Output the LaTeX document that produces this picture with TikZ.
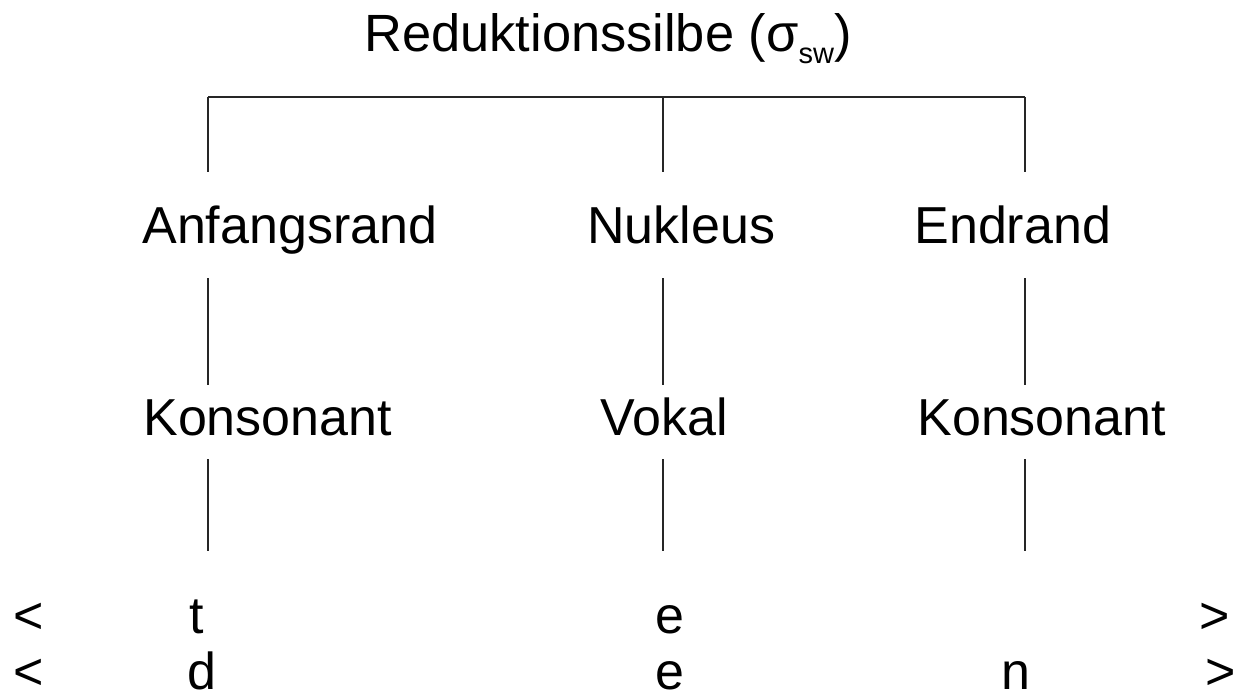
\documentclass[tikz,border=0pt]{standalone}
\usepackage{fontspec}
\setmainfont{Liberation Sans}
\begin{document}
\begin{tikzpicture}[x=0.5pt,y=-0.5pt,
  lbl/.style={anchor=base west,inner sep=0pt,font=\fontsize{26}{30}\selectfont},
  ttl/.style={anchor=base west,inner sep=0pt,font=\fontsize{26.2}{30}\selectfont},
  sym/.style={anchor=base,inner sep=0pt,font=\fontsize{26}{30}\selectfont},
  edge/.style={line width=0.8pt,draw=black!85}]
\useasboundingbox (0,0) rectangle (1236,696);
% title
\node[ttl] (title) at (364,51) {Reduktionssilbe (σ\raisebox{-6pt}{\fontsize{14.5}{16}\selectfont sw})};
% level 1
\node[lbl] (anf) at (142,243) {Anfangsrand};
\node[lbl] (nuk) at (587,243) {Nukleus};
\node[lbl] (end) at (914,243) {Endrand};
% level 2
\node[lbl] (kon1) at (143,435) {Konsonant};
\node[lbl] (vok) at (600,435) {Vokal};
\node[lbl] (kon2) at (917,435) {Konsonant};
% bottom rows
\node[sym] (la) at (29,633) {<};
\node[sym] (ta) at (197,633) {t};
\node[sym] (ea) at (670,633) {e};
\node[sym] (ra) at (1215,633) {>};
\node[sym] (lb) at (29,689) {<};
\node[sym] (db) at (202,689) {d};
\node[sym] (eb) at (670,689) {e};
\node[sym] (nb) at (1016,689) {n};
\node[sym] (rb) at (1221,689) {>};
% connector coordinates
\coordinate (barL) at (208,97);
\coordinate (barM) at (663,97);
\coordinate (barR) at (1025,97);
\coordinate (a1) at (208,172);
\coordinate (m1) at (663,172);
\coordinate (r1) at (1025,172);
\coordinate (a2t) at (208,278);
\coordinate (m2t) at (663,278);
\coordinate (r2t) at (1025,278);
\coordinate (a2b) at (208,385);
\coordinate (m2b) at (663,385);
\coordinate (r2b) at (1025,385);
\coordinate (a3t) at (208,459);
\coordinate (m3t) at (663,459);
\coordinate (r3t) at (1025,459);
\coordinate (a3b) at (208,551);
\coordinate (m3b) at (663,551);
\coordinate (r3b) at (1025,551);
\draw[edge] (barL) -- (barR);
\draw[edge] (barL) -- (a1);
\draw[edge] (barM) -- (m1);
\draw[edge] (barR) -- (r1);
\draw[edge] (a2t) -- (a2b);
\draw[edge] (m2t) -- (m2b);
\draw[edge] (r2t) -- (r2b);
\draw[edge] (a3t) -- (a3b);
\draw[edge] (m3t) -- (m3b);
\draw[edge] (r3t) -- (r3b);
\end{tikzpicture}
\end{document}
